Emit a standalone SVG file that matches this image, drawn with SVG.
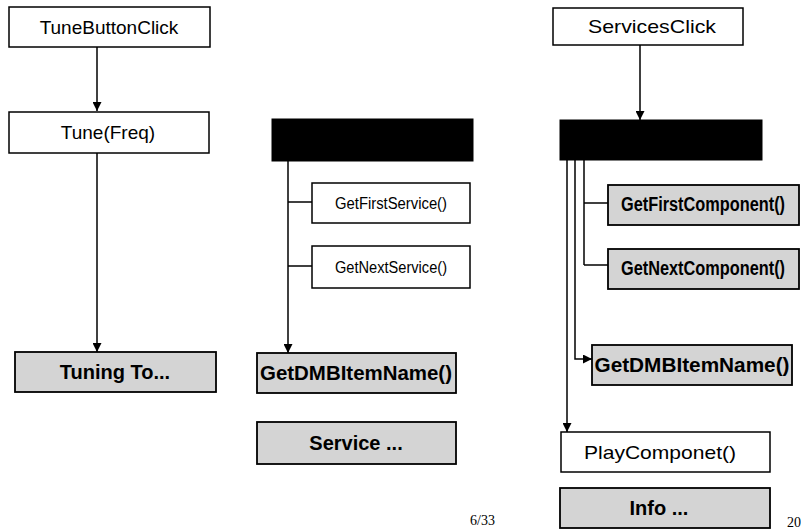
<svg xmlns="http://www.w3.org/2000/svg" width="801" height="530" viewBox="0 0 801 530">
  <style>
    .box { fill: #ffffff; stroke: #000; stroke-width: 1.5; }
    .shade { fill: #d4d4d4; stroke: #000; stroke-width: 1.8; }
    .black { fill: #000; stroke: #000; stroke-width: 1; }
    .lbl { font-family: "Liberation Sans", Arial, sans-serif; font-size: 19px; fill: #000; text-anchor: middle; }
    .lbl-b { font-family: "Liberation Sans", Arial, sans-serif; font-size: 20px; font-weight: bold; fill: #000; text-anchor: middle; }
    .small { font-size: 16px; }
    .pg { font-family: "Liberation Serif", "Times New Roman", serif; font-size: 14px; fill: #000; }
    .wire { fill: none; stroke: #000; stroke-width: 1.5; }
  </style>
  <defs>
    <marker id="arrow" viewBox="0 0 10 10" refX="10" refY="5" markerWidth="9" markerHeight="9" markerUnits="userSpaceOnUse" orient="auto">
      <path d="M0,0 L10,5 L0,10 Z" fill="#000"/>
    </marker>
  </defs>

  <rect width="801" height="530" fill="#ffffff"/>

  <!-- connectors -->
  <g id="connectors">
    <!-- left column -->
    <path class="wire" d="M97,47 V111" marker-end="url(#arrow)"/>
    <path class="wire" d="M97,153 V352" marker-end="url(#arrow)"/>
    <!-- middle column -->
    <path class="wire" d="M288,161 V353" marker-end="url(#arrow)"/>
    <path class="wire" d="M288,202 H312"/>
    <path class="wire" d="M288,266 H312"/>
    <!-- right column -->
    <path class="wire" d="M640,45 V120" marker-end="url(#arrow)"/>
    <path class="wire" d="M567,160 V432" marker-end="url(#arrow)"/>
    <path class="wire" d="M575,160 V359 H592" marker-end="url(#arrow)"/>
    <path class="wire" d="M584,160 V265"/>
    <path class="wire" d="M584,203 H608"/>
    <path class="wire" d="M584,265 H608"/>
  </g>

  <!-- left column -->
  <g id="tuneButtonClick">
    <rect class="box" x="9" y="7" width="201" height="40"/>
    <text class="lbl" x="109" y="34">TuneButtonClick</text>
  </g>
  <g id="tuneFreq">
    <rect class="box" x="9" y="112" width="200" height="41"/>
    <text class="lbl" x="108" y="139">Tune(Freq)</text>
  </g>
  <g id="tuningTo">
    <rect class="shade" x="15" y="352" width="201" height="40"/>
    <text class="lbl-b" x="115" y="379">Tuning To...</text>
  </g>

  <!-- middle column -->
  <g id="serviceEnum">
    <rect class="black" x="272" y="119" width="201" height="42"/>
  </g>
  <g id="getFirstService">
    <rect class="box" x="312" y="183" width="158" height="40"/>
    <text class="lbl small" x="391" y="209" textLength="112" lengthAdjust="spacingAndGlyphs">GetFirstService()</text>
  </g>
  <g id="getNextService">
    <rect class="box" x="312" y="246" width="158" height="42"/>
    <text class="lbl small" x="391" y="273" textLength="112" lengthAdjust="spacingAndGlyphs">GetNextService()</text>
  </g>
  <g id="getDMBItemNameService">
    <rect class="shade" x="257" y="353" width="199" height="40"/>
    <text class="lbl-b" x="356" y="380" font-size="18" textLength="192" lengthAdjust="spacingAndGlyphs">GetDMBItemName()</text>
  </g>
  <g id="serviceInfo">
    <rect class="shade" x="257" y="422" width="199" height="42"/>
    <text class="lbl-b" x="356" y="450">Service ...</text>
  </g>

  <!-- right column -->
  <g id="servicesClick">
    <rect class="box" x="553" y="8" width="190" height="37"/>
    <text class="lbl" x="652" y="33" font-size="20" textLength="128" lengthAdjust="spacingAndGlyphs">ServicesClick</text>
  </g>
  <g id="componentEnum">
    <rect class="black" x="560" y="120" width="202" height="40"/>
  </g>
  <g id="getFirstComponent">
    <rect class="shade" x="608" y="185" width="191" height="40"/>
    <text class="lbl-b" x="703" y="211" font-size="16.5" textLength="164" lengthAdjust="spacingAndGlyphs">GetFirstComponent()</text>
  </g>
  <g id="getNextComponent">
    <rect class="shade" x="608" y="249" width="191" height="40"/>
    <text class="lbl-b" x="703" y="275" font-size="16.5" textLength="164" lengthAdjust="spacingAndGlyphs">GetNextComponent()</text>
  </g>
  <g id="getDMBItemNameComponent">
    <rect class="shade" x="592" y="345" width="200" height="40"/>
    <text class="lbl-b" x="692" y="372" font-size="18" textLength="195" lengthAdjust="spacingAndGlyphs">GetDMBItemName()</text>
  </g>
  <g id="playComponent">
    <rect class="box" x="561" y="432" width="209" height="40"/>
    <text class="lbl" x="660" y="459" font-size="20" textLength="152" lengthAdjust="spacingAndGlyphs">PlayComponet()</text>
  </g>
  <g id="info">
    <rect class="shade" x="560" y="488" width="210" height="40"/>
    <text class="lbl-b" x="659" y="515">Info ...</text>
  </g>

  <!-- page numbers -->
  <text class="pg" x="470" y="525">6/33</text>
  <text class="pg" x="787" y="527">20</text>
</svg>
